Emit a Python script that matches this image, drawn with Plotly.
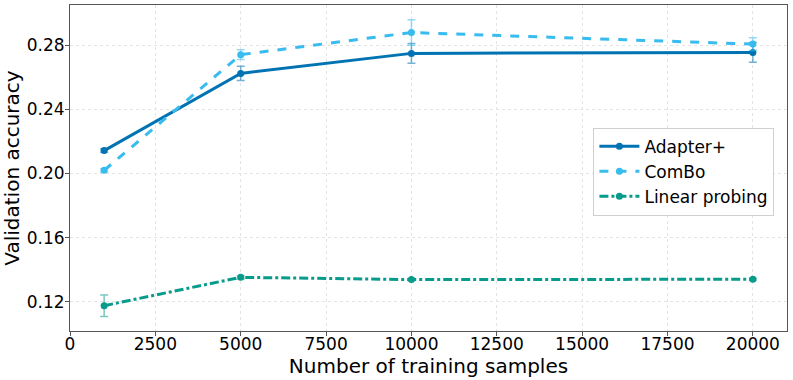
import plotly.graph_objects as go

SAMPLES = [1000, 5000, 10000, 20000]

ADAPTER_MEAN = [0.2143, 0.2625, 0.2750, 0.2756]
ADAPTER_ERR = [0.0010, 0.0045, 0.0062, 0.0062]

COMBO_MEAN = [0.2020, 0.2742, 0.2880, 0.2808]
COMBO_ERR = [0.0010, 0.0030, 0.0080, 0.0040]

LINEAR_MEAN = [0.1175, 0.1352, 0.1338, 0.1340]
LINEAR_ERR = [0.0067, 0.0010, 0.0006, 0.0006]

X_TICKS = [0, 2500, 5000, 7500, 10000, 12500, 15000, 17500, 20000]
Y_TICKS = [0.12, 0.16, 0.20, 0.24, 0.28]

SERIES = [
    ("Adapter+", ADAPTER_MEAN, ADAPTER_ERR, "#0173b2", "rgba(1,115,178,0.55)", "solid"),
    ("ComBo", COMBO_MEAN, COMBO_ERR, "#38bbee", "rgba(56,187,238,0.55)", "dash"),
    ("Linear probing", LINEAR_MEAN, LINEAR_ERR, "#079b8b", "rgba(7,155,139,0.55)", "dashdot"),
]

fig = go.Figure()
for name, mean, err, color, err_color, dash in SERIES:
    fig.add_trace(go.Scatter(
        x=SAMPLES, y=mean, name=name, mode="lines+markers",
        line=dict(color=color, width=3, dash=dash),
        marker=dict(color=color, size=7),
        error_y=dict(type="data", array=err, visible=True, color=err_color, thickness=1.5, width=4),
    ))

axis_style = dict(
    showline=True, linecolor="#555555", linewidth=1, mirror=True,
    ticks="outside", ticklen=4, tickcolor="#555555",
    showgrid=True, gridcolor="#e3e3e3", griddash="dot", gridwidth=1,
    zeroline=False, tickfont=dict(size=17, color="black"), automargin=False,
)

fig.update_xaxes(
    range=[0, 21000], tickvals=X_TICKS, ticktext=[str(t) for t in X_TICKS],
    title=dict(text="Number of training samples", font=dict(size=20, color="black"), standoff=0),
    ticklabelstandoff=-6,
    **axis_style,
)
fig.update_yaxes(
    range=[0.1017, 0.3052], tickvals=Y_TICKS, ticktext=[f"{t:.2f}" for t in Y_TICKS],
    title=dict(text="Validation accuracy", font=dict(size=20, color="black"), standoff=4),
    ticklabelstandoff=-3,
    **axis_style,
)

fig.update_layout(
    width=793, height=380,
    template="plotly_white",
    font=dict(family="DejaVu Sans", color="black"),
    paper_bgcolor="white", plot_bgcolor="white",
    margin=dict(l=70, r=6, t=5, b=49),
    legend=dict(
        x=0.73, y=0.624, xanchor="left", yanchor="top",
        bgcolor="rgba(255,255,255,0.9)", bordercolor="#d0d0d0", borderwidth=1,
        font=dict(size=17, color="black"), tracegroupgap=0, itemwidth=40,
    ),
)

fig.write_html(
    "out.html",
    config={"displayModeBar": False},
    post_script="document.body.style.margin='0';document.body.style.overflow='hidden';",
)
